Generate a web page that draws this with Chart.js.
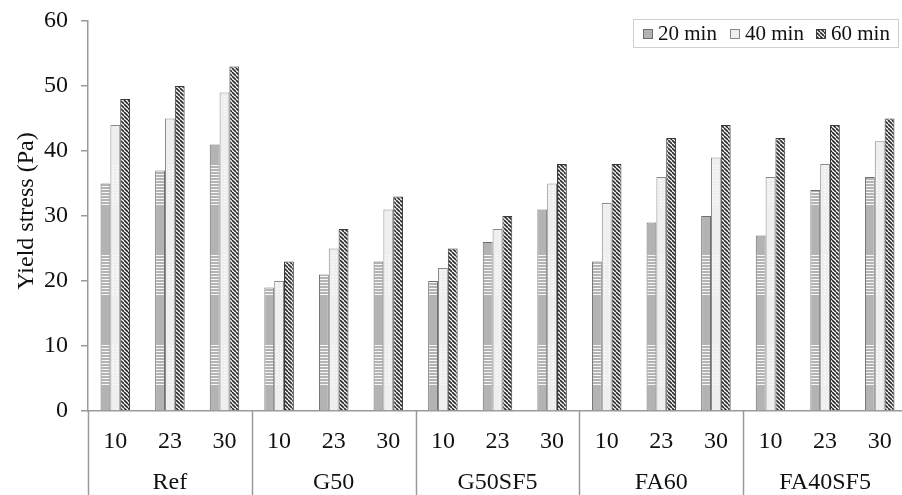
<!DOCTYPE html>
<html>
<head>
<meta charset="utf-8">
<script src="https://cdn.jsdelivr.net/npm/chart.js@4.4.1/dist/chart.umd.min.js"></script>
<style>
  html, body { margin: 0; padding: 0; background: #fff; overflow: hidden; }
  .wrap { position: relative; width: 907px; height: 495px; }
</style>
</head>
<body>
<div class="wrap"><canvas id="yieldChart"></canvas></div>
<script>
const groups = ['Ref', 'G50', 'G50SF5', 'FA60', 'FA40SF5']
const temps = ['10', '23', '30']
const seriesNames = ['20 min', '40 min', '60 min']
const min20 = [35, 37, 41, 19, 21, 23, 20, 26, 31, 23, 29, 30, 27, 34, 36]
const min40 = [44, 45, 49, 20, 25, 31, 22, 28, 35, 32, 36, 39, 36, 38, 41.5]
const min60 = [48, 50, 53, 23, 28, 33, 25, 30, 38, 38, 42, 44, 42, 44, 45]
const yTicks = [0, 10, 20, 30, 40, 50, 60]
const yTitle = 'Yield stress (Pa)'

const labels = []
groups.forEach(() => temps.forEach(t => labels.push(t)))

const serif = "'Liberation Serif', 'Times New Roman', serif"

// gray bar with bands of white horizontal lines
function stripedGray() {
    const c = document.createElement('canvas')
    c.width = 4; c.height = 90
    const g = c.getContext('2d')
    g.fillStyle = '#b3b3b3'
    g.fillRect(0, 0, 4, 90)
    g.fillStyle = '#f6f6f6'
    for (let y = 0; y < 90; y += 3) {
        if (y >= 73 || y < 27) g.fillRect(0, y, 4, 1)
    }
    return g.createPattern(c, 'repeat')
}
function lightFill() {
    const c = document.createElement('canvas')
    c.width = 4; c.height = 90
    const g = c.getContext('2d')
    g.fillStyle = '#efefef'
    g.fillRect(0, 0, 4, 90)
    g.fillStyle = '#fbfbfb'
    for (let y = 0; y < 90; y += 3) {
        if (y >= 73 || y < 27) g.fillRect(0, y, 2, 1)
    }
    return g.createPattern(c, 'repeat')
}
function hatch() {
    const s = 4
    const c = document.createElement('canvas')
    c.width = s; c.height = s
    const g = c.getContext('2d')
    g.fillStyle = '#ffffff'
    g.fillRect(0, 0, s, s)
    g.strokeStyle = '#2a2a2a'
    g.lineWidth = 1.6
    for (let k = -1; k <= 1; k++) {
        g.beginPath()
        g.moveTo(k * s, 0)
        g.lineTo(k * s + s, s)
        g.stroke()
    }
    return g.createPattern(c, 'repeat')
}

const fills = [stripedGray(), lightFill(), hatch()]
const borders = ['#6e6e6e', '#8a8a8a', '#3a3a3a']

// group labels, separators under the axis, y title and the boxed legend
const extras = {
    id: 'extras',
    afterDraw(chart) {
        const ctx = chart.ctx
        const x = chart.scales.x
        const area = chart.chartArea
        const H = chart.height
        const step = x.getPixelForValue(1) - x.getPixelForValue(0)
        ctx.save()
        ctx.strokeStyle = '#9a9a9a'
        ctx.lineWidth = 1.5
        for (let gi = 0; gi <= groups.length; gi++) {
            const px = Math.round(x.getPixelForValue(gi * temps.length) - step / 2) + 0.5
            ctx.beginPath()
            ctx.moveTo(px, area.bottom)
            ctx.lineTo(px, H)
            ctx.stroke()
        }
        ctx.fillStyle = '#111'
        ctx.font = '24px ' + serif
        ctx.textAlign = 'center'
        ctx.textBaseline = 'alphabetic'
        groups.forEach((name, gi) => {
            const a = x.getPixelForValue(gi * temps.length)
            const b = x.getPixelForValue(gi * temps.length + temps.length - 1)
            ctx.fillText(name, (a + b) / 2, 489)
        })

        // y title, a little above the axis middle as in the original
        ctx.save()
        ctx.translate(27, 211)
        ctx.rotate(-Math.PI / 2)
        ctx.textBaseline = 'middle'
        ctx.fillText(yTitle, 0, 0)
        ctx.restore()

        // legend
        const lx = 633, ly = 19, lw = 265, lh = 28
        ctx.fillStyle = '#fff'
        ctx.fillRect(lx, ly, lw, lh)
        ctx.strokeStyle = '#cfcfcf'
        ctx.lineWidth = 1
        ctx.strokeRect(lx + 0.5, ly + 0.5, lw, lh)
        const itemX = [643, 730, 816]
        ctx.font = '21px ' + serif
        ctx.textAlign = 'left'
        ctx.textBaseline = 'middle'
        seriesNames.forEach((n, i) => {
            ctx.fillStyle = fills[i]
            ctx.fillRect(itemX[i], 29, 10, 10)
            ctx.strokeStyle = borders[i]
            ctx.strokeRect(itemX[i] + 0.5, 29.5, 9, 9)
            ctx.fillStyle = '#111'
            ctx.fillText(n, itemX[i] + 15, 34)
        })
        ctx.restore()
    }
}

new Chart(document.getElementById('yieldChart'), {
    type: 'bar',
    data: {
        labels: labels,
        datasets: [min20, min40, min60].map((d, i) => ({
            label: seriesNames[i],
            data: d,
            backgroundColor: fills[i],
            borderColor: borders[i],
            borderWidth: 1,
            barPercentage: 1,
            categoryPercentage: 0.54
        }))
    },
    options: {
        responsive: true,
        maintainAspectRatio: false,
        animation: false,
        layout: { padding: { top: 21, right: 0, left: 0, bottom: 0 } },
        plugins: { legend: { display: false }, tooltip: { enabled: false } },
        scales: {
            x: {
                grid: { display: false },
                border: { display: true, color: '#9a9a9a', width: 1.5 },
                ticks: { color: '#111', font: { family: serif, size: 24 }, padding: 8, maxRotation: 0 },
                afterFit(scale) { scale.height = 84 }
            },
            y: {
                min: 0,
                max: 60,
                afterBuildTicks(scale) { scale.ticks = yTicks.map(v => ({ value: v })) },
                grid: { drawOnChartArea: false, drawTicks: true, tickLength: 7, color: '#9a9a9a', lineWidth: 1.5 },
                border: { display: true, color: '#9a9a9a', width: 1.5 },
                ticks: { color: '#111', font: { family: serif, size: 24 }, padding: 13 },
                afterFit(scale) {
                    scale.width = 88
                    scale.paddingTop = 0
                    scale.paddingBottom = 0
                }
            }
        }
    },
    plugins: [extras]
})
</script>
</body>
</html>
